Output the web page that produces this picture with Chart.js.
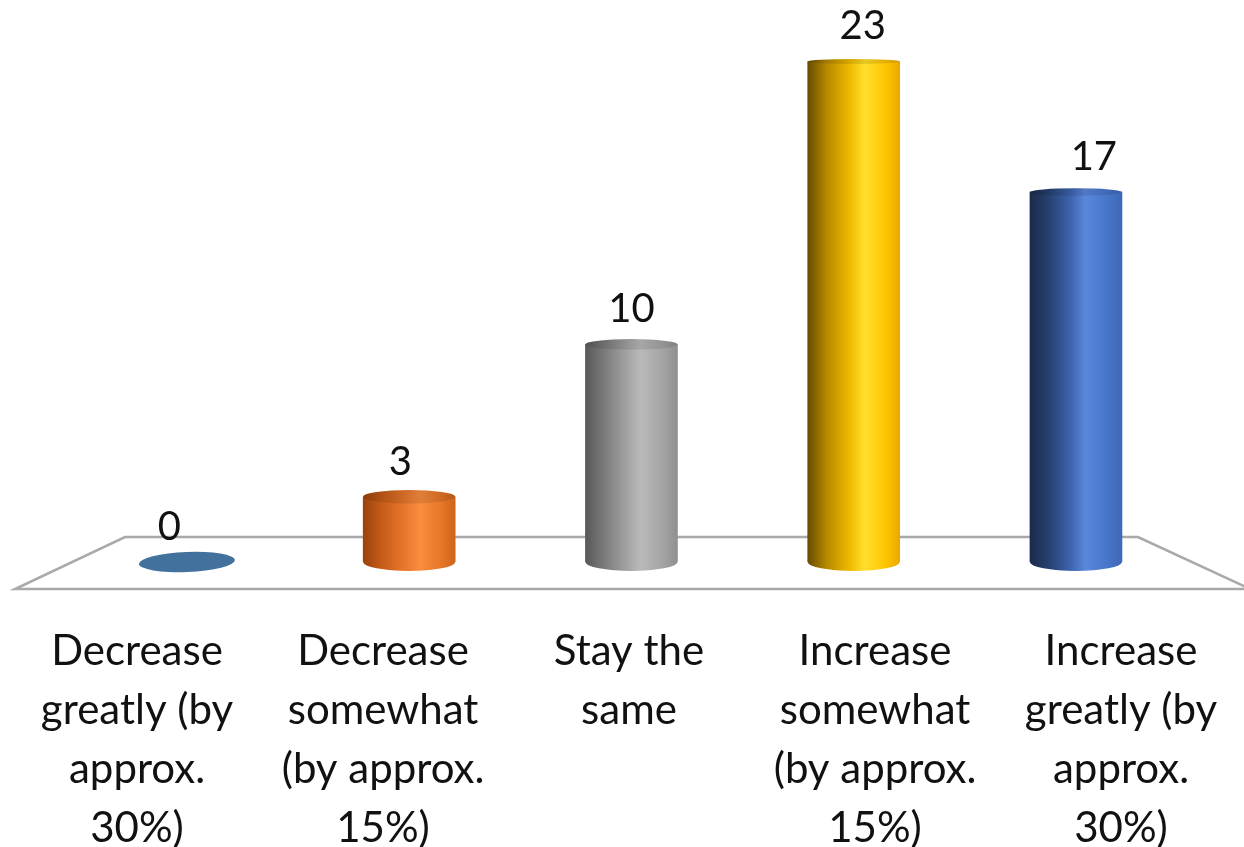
<!DOCTYPE html>
<html>
<head>
<meta charset="utf-8">
<script src="https://cdn.jsdelivr.net/npm/chart.js@4/dist/chart.umd.min.js"></script>
<style>
  html, body { margin: 0; padding: 0; background: #ffffff; }
  #wrap { width: 1244px; height: 847px; }
</style>
</head>
<body>
<div id="wrap"><canvas id="chart" width="1244" height="847"></canvas></div>
<script>
// Survey answers: expected change, and how many respondents chose each option
const categories = [
  ['Decrease', 'greatly (by', 'approx.', '30%)'],
  ['Decrease', 'somewhat', '(by approx.', '15%)'],
  ['Stay the', 'same'],
  ['Increase', 'somewhat', '(by approx.', '15%)'],
  ['Increase', 'greatly (by', 'approx.', '30%)']
];
const responses = [0, 3, 10, 23, 17];

// Cylinder shading, left edge to right edge
const cylinderShades = [
  [[0, '#41719c'], [1, '#41719c']],
  [[0, '#9a430c'], [0.2, '#c65c18'], [0.45, '#e8772c'], [0.62, '#fa8d3f'], [0.85, '#e67628'], [1, '#cc641c']],
  [[0, '#585858'], [0.2, '#7a7a7a'], [0.45, '#a3a3a3'], [0.6, '#bababa'], [0.85, '#a3a3a3'], [1, '#8f8f8f']],
  [[0, '#694c00'], [0.2, '#b48700'], [0.45, '#f0b800'], [0.62, '#ffdf2c'], [0.85, '#ffc400'], [1, '#e9a900']],
  [[0, '#1b2a4a'], [0.2, '#26406f'], [0.45, '#3e65af'], [0.6, '#5a88dc'], [0.85, '#4675c8'], [1, '#3f68b5']]
];

const FONT = 'Lato, "Open Sans", sans-serif';
const BAR_W = 92;

function sideGradient(ctx, cx, w, stops) {
  const g = ctx.createLinearGradient(cx - w / 2, 0, cx + w / 2, 0);
  stops.forEach(([o, c]) => g.addColorStop(o, c));
  return g;
}

// Floor plane under the cylinders
const floorPlugin = {
  id: 'floor',
  beforeDatasetsDraw(chart) {
    const { ctx, chartArea, scales } = chart;
    const y0 = scales.y.getPixelForValue(0);
    const backY = y0 - 25, frontY = y0 + 27;
    ctx.save();
    ctx.beginPath();
    ctx.moveTo(chartArea.left + 111, backY);
    ctx.lineTo(chartArea.right - 106, backY);
    ctx.lineTo(chartArea.right + 6, frontY);
    ctx.lineTo(chartArea.left + 1, frontY);
    ctx.closePath();
    ctx.fillStyle = '#ffffff';
    ctx.fill();
    ctx.strokeStyle = '#a9a9a9';
    ctx.lineWidth = 2.5;
    ctx.stroke();
    ctx.restore();
  }
};

// Rounded base, top cap and value label of each cylinder
const cylinderPlugin = {
  id: 'cylinders',
  afterDatasetsDraw(chart) {
    const { ctx, chartArea } = chart;
    const meta = chart.getDatasetMeta(0);
    const midX = (chartArea.left + chartArea.right) / 2;
    const span = chartArea.bottom - chartArea.top;
    meta.data.forEach((bar, i) => {
      const { x, y, base, width } = bar.getProps(['x', 'y', 'base', 'width'], true);
      const r = width / 2;
      const value = responses[i];
      ctx.save();
      if (value === 0) {
        ctx.beginPath();
        ctx.ellipse(x, base, 48, 10, -0.04, 0, Math.PI * 2);
        ctx.fillStyle = cylinderShades[i][0][1];
        ctx.fill();
      } else {
        const grad = sideGradient(ctx, x, width, cylinderShades[i]);
        // rounded bottom
        ctx.beginPath();
        ctx.ellipse(x, base, r, 9, 0, 0, Math.PI);
        ctx.fillStyle = grad;
        ctx.fill();
        // top cap
        const capH = 2 + 5.5 * (y - chartArea.top) / span;
        ctx.beginPath();
        ctx.ellipse(x, y, r, capH, 0, 0, Math.PI * 2);
        ctx.fillStyle = grad;
        ctx.fill();
        ctx.fillStyle = 'rgba(0,0,0,0.10)';
        ctx.fill();
      }
      ctx.fillStyle = '#111111';
      ctx.font = '40px ' + FONT;
      ctx.textAlign = 'center';
      ctx.textBaseline = 'middle';
      ctx.fillText(String(value), x + (x - midX) * 0.04, y - 35);
      ctx.restore();
    });
  }
};

const chart = new Chart(document.getElementById('chart'), {
  type: 'bar',
  data: {
    labels: categories,
    datasets: [{
      data: responses.map((v, i) => ({ x: i, y: v })),
      xAxisID: 'xb',
      yAxisID: 'y',
      barThickness: BAR_W,
      borderWidth: 0,
      backgroundColor: (c) => {
        const xs = c.chart.scales.xb;
        if (c.type !== 'data' || !xs) return cylinderShades[c.dataIndex || 0][0][1];
        const cx = xs.getPixelForValue(c.dataIndex);
        if (!Number.isFinite(cx)) return cylinderShades[c.dataIndex][0][1];
        return sideGradient(c.chart.ctx, cx, BAR_W, cylinderShades[c.dataIndex]);
      }
    }]
  },
  options: {
    responsive: false,
    animation: false,
    events: [],
    layout: { padding: { top: 18, left: 14, right: 0, bottom: 0 } },
    plugins: { legend: { display: false }, tooltip: { enabled: false } },
    scales: {
      x: {
        type: 'category',
        position: 'bottom',
        offset: true,
        grid: { display: false, drawTicks: false },
        border: { display: false },
        ticks: {
          autoSkip: false,
          maxRotation: 0,
          padding: 60,
          color: '#111111',
          font: { family: FONT, size: 42, lineHeight: '59px' }
        },
        afterFit(scale) {
          scale.height = 285;
          scale.paddingLeft = 0;
          scale.paddingRight = 0;
        }
      },
      xb: {
        type: 'linear',
        display: false,
        offset: false,
        grid: { offset: false },
        min: -0.778,
        max: 4.756
      },
      y: {
        type: 'linear',
        display: false,
        min: 0,
        max: 25
      }
    }
  },
  plugins: [floorPlugin, cylinderPlugin]
});
chart.update();
</script>
</body>
</html>
